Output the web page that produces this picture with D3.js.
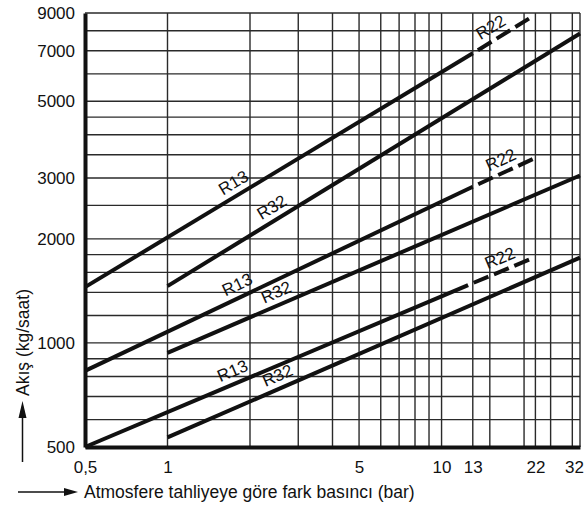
<!DOCTYPE html>
<html>
<head>
<meta charset="utf-8">
<script src="https://cdn.jsdelivr.net/npm/d3@7"></script>
<style>
body { margin: 0; background: #fff; }
text { font-family: "Liberation Sans", Arial, Helvetica, sans-serif; fill: #111; }
</style>
</head>
<body>
<svg width="584" height="506"></svg>
<script>
// tick labels and grid lines
var xTickValues = [0.5, 1, 5, 10, 13, 22, 32];
var yTickValues = [500, 1000, 2000, 3000, 5000, 7000, 9000];
var xGridValues = [1, 2, 3, 4, 5, 6, 7, 8, 9, 10, 13, 15, 20, 22, 25, 30, 32];
var yGridValues = [600, 700, 800, 900, 1000, 1200, 1400, 1600, 1800, 2000, 2500,
    3000, 3500, 4000, 4500, 5000, 6000, 7000, 8000, 9000];

// curves: [bar, kg/saat]
var r13Top = [[0.5, 1450], [13, 6880]];
var r32Top = [[1, 1460], [32, 7850]];
var r22Top = [[13, 6880], [21.5, 8800]];
var r13Mid = [[0.5, 830], [13, 2830]];
var r32Mid = [[1, 936], [32, 3050]];
var r22Mid = [[13, 2830], [21.5, 3400]];
var r13Low = [[0.5, 500], [12.5, 1470]];
var r32Low = [[1, 533], [32, 1765]];
var r22Low = [[12.5, 1470], [21.2, 1750]];

var solidLines = [r13Top, r32Top, r13Mid, r32Mid, r13Low, r32Low];
var dashedLines = [r22Top, r22Mid, r22Low];

// labels sit on a curve at a given pressure
var curveLabels = [
    {text: "R13", line: r13Top, at: 1.84},
    {text: "R32", line: r32Top, at: 2.54},
    {text: "R22", line: r22Top, at: 16.0},
    {text: "R13", line: r13Mid, at: 1.88},
    {text: "R32", line: r32Mid, at: 2.6},
    {text: "R22", line: r22Mid, at: 17.2},
    {text: "R13", line: r13Low, at: 1.8},
    {text: "R32", line: r32Low, at: 2.63},
    {text: "R22", line: r22Low, at: 17}
];

var svg = d3.select("svg");

var x = d3.scaleLog().domain([0.5, 32]).range([85, 580]);
var y = d3.scaleLog().domain([500, 9000]).range([447, 13]);

// grid
svg.append("g").selectAll("line")
    .data(xGridValues)
    .enter().append("line")
    .attr("x1", d => x(d)).attr("x2", d => x(d))
    .attr("y1", y(500)).attr("y2", y(9000))
    .attr("stroke", "#2a2a2a")
    .attr("stroke-width", 1.4);

svg.append("g").selectAll("line")
    .data(yGridValues)
    .enter().append("line")
    .attr("x1", x(0.5)).attr("x2", x(32))
    .attr("y1", d => y(d)).attr("y2", d => y(d))
    .attr("stroke", "#2a2a2a")
    .attr("stroke-width", 1.4);

// axes
var xAxis = d3.axisBottom(x)
    .tickValues(xTickValues)
    .tickFormat(d => String(d).replace(".", ","))
    .tickSize(0)
    .tickPadding(14);

var yAxis = d3.axisLeft(y)
    .tickValues(yTickValues)
    .tickFormat(d => d)
    .tickSize(0)
    .tickPadding(10);

var gx = svg.append("g")
    .attr("transform", "translate(0," + y(500) + ")")
    .call(xAxis);

var gy = svg.append("g")
    .attr("transform", "translate(" + x(0.5) + ",0)")
    .call(yAxis);

[gx, gy].forEach(g => {
    g.select(".domain").attr("stroke", "#111").attr("stroke-width", 4);
    g.selectAll("text").attr("font-size", 17).attr("fill", "#111")
        .style("font-family", '"Liberation Sans", Arial, sans-serif');
});
gx.selectAll(".tick text").filter(d => d === 32).attr("dx", -6);

// curves
var line = d3.line().x(d => x(d[0])).y(d => y(d[1]));

svg.append("g").selectAll("path")
    .data(solidLines)
    .enter().append("path")
    .attr("d", line)
    .attr("fill", "none")
    .attr("stroke", "#111")
    .attr("stroke-width", 4);

svg.append("g").selectAll("path")
    .data(dashedLines)
    .enter().append("path")
    .attr("d", line)
    .attr("fill", "none")
    .attr("stroke", "#111")
    .attr("stroke-width", 4)
    .attr("stroke-dasharray", "16,6")
    .attr("stroke-dashoffset", 16);

// labels along the curves
function valueAt(pts, v) {
    var a = pts[0], b = pts[1];
    var t = Math.log(v / a[0]) / Math.log(b[0] / a[0]);
    return Math.exp(Math.log(a[1]) + t * Math.log(b[1] / a[1]));
}

svg.append("g").selectAll("text")
    .data(curveLabels)
    .enter().append("text")
    .attr("transform", d => {
        var p0 = d.line[0], p1 = d.line[1];
        var ang = Math.atan2(y(p1[1]) - y(p0[1]), x(p1[0]) - x(p0[0])) * 180 / Math.PI;
        return "translate(" + x(d.at) + "," + y(valueAt(d.line, d.at)) + ") rotate(" + ang + ")";
    })
    .attr("y", -7)
    .attr("text-anchor", "middle")
    .attr("font-size", 17)
    .text(d => d.text);

// axis titles with arrows
svg.append("text")
    .attr("transform", "translate(29,396) rotate(-90)")
    .attr("font-size", 17.5)
    .text("Akış (kg/saat)");

svg.append("line")
    .attr("x1", 22.5).attr("x2", 22.5)
    .attr("y1", 462).attr("y2", 414)
    .attr("stroke", "#111").attr("stroke-width", 1.5);
svg.append("path")
    .attr("d", "M22.5,401 L18.5,418 L26.5,418 Z")
    .attr("fill", "#111");

svg.append("line")
    .attr("x1", 18).attr("x2", 66)
    .attr("y1", 492).attr("y2", 492)
    .attr("stroke", "#111").attr("stroke-width", 1.5);
svg.append("path")
    .attr("d", "M78,492 L64,488 L64,496 Z")
    .attr("fill", "#111");

svg.append("text")
    .attr("x", 84)
    .attr("y", 498)
    .attr("font-size", 17.5)
    .text("Atmosfere tahliyeye göre fark basıncı (bar)");
</script>
</body>
</html>
